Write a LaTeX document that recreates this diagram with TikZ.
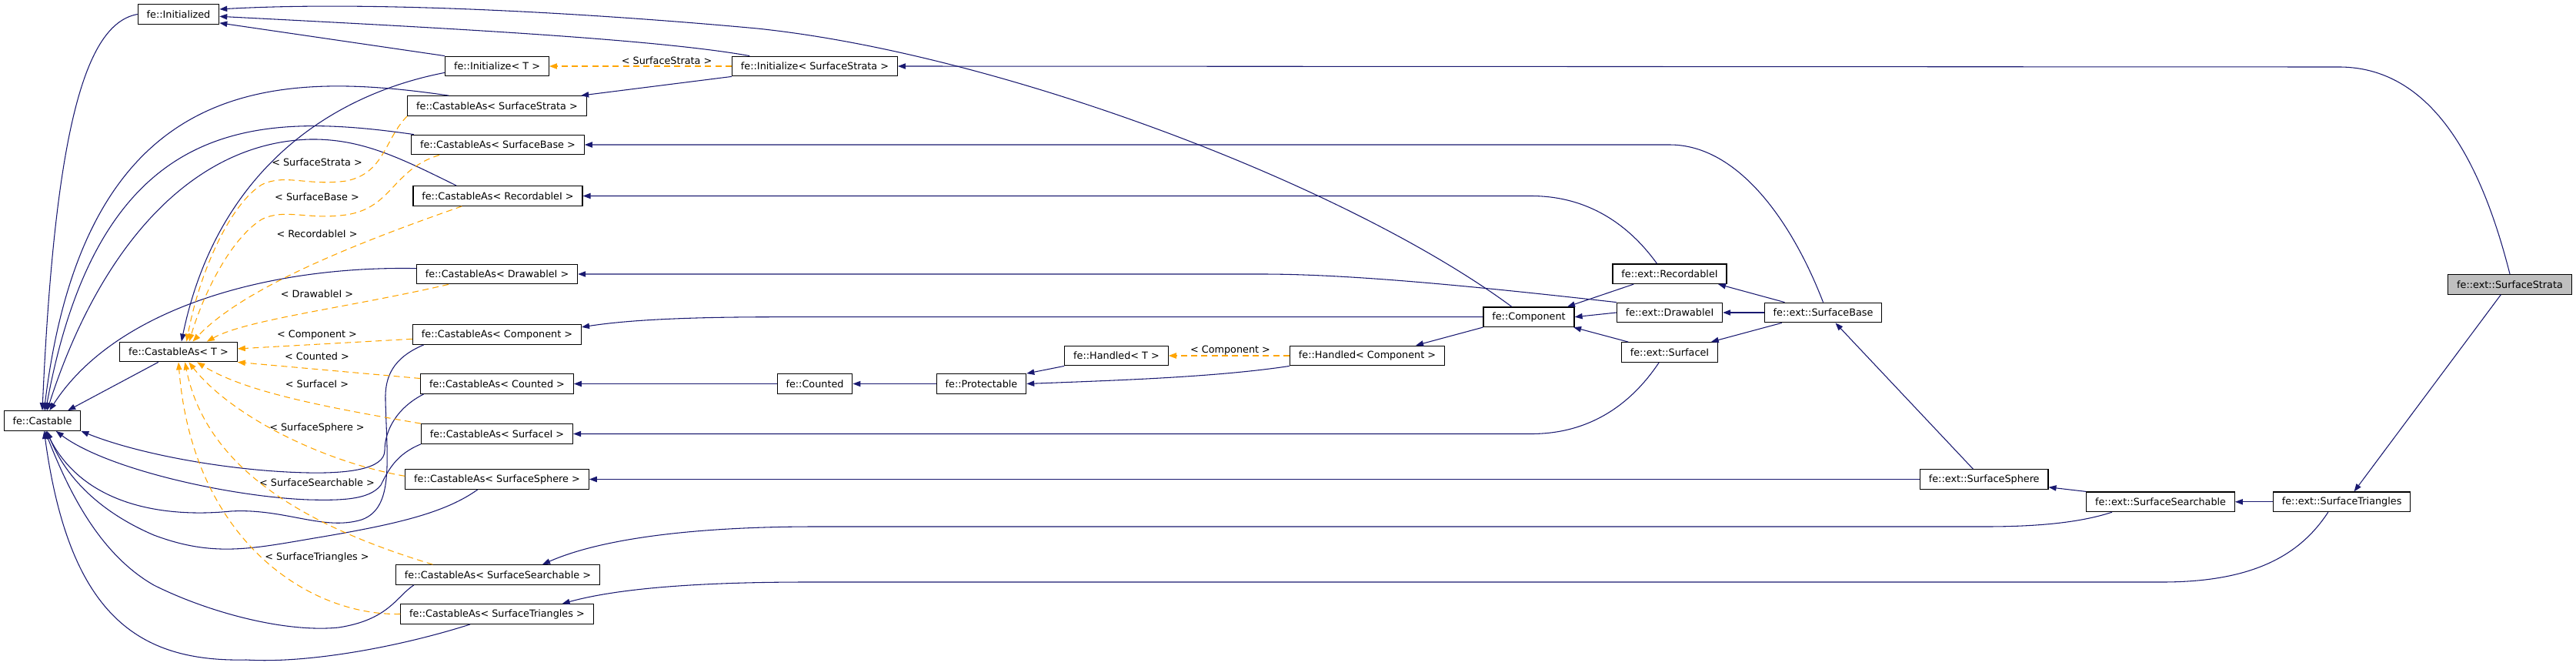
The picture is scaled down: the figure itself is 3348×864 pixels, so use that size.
\documentclass[tikz,border=0pt]{standalone}
\usepackage{fontspec}
\setmainfont{DejaVu Sans}
\usepackage{tikz}
\usetikzlibrary{arrows.meta}
\definecolor{edgeblue}{HTML}{191970}
\definecolor{tmplorange}{HTML}{FFA500}
\definecolor{curgray}{HTML}{BFBFBF}

\begin{document}
\begin{tikzpicture}[x=0.75pt,y=-0.75pt,
    cls/.style={draw=black,line width=0.9pt,fill=white,minimum height=19.2pt,inner xsep=8.5pt,inner ysep=0pt,font=\fontsize{9.6}{11}\selectfont},
    cur/.style={cls,fill=curgray},
    inh/.style={draw=edgeblue,line width=0.8pt,-{Triangle[length=7.5pt,width=5.5pt]}},
    tmpl/.style={draw=tmplorange,line width=0.8pt,dash pattern=on 6pt off 4pt,-{Triangle[length=7.5pt,width=5.5pt]}},
    lbl/.style={inner sep=0pt,font=\fontsize{9.6}{11}\selectfont}]
            \useasboundingbox (0,0) rectangle (3348,864);
            %\draw[very thin,color=gray] (0,0) grid[step=100] (3348,864);
            \node[cls] (init) at (232,18.5) {fe::Initialized};
            \node[cls] (initT) at (646,86) {fe::Initialize< T >};
            \node[cls] (initSS) at (1059,86) {fe::Initialize< SurfaceStrata >};
            \node[cls] (casSS) at (646,137.5) {fe::CastableAs< SurfaceStrata >};
            \node[cls] (casSB) at (647,188) {fe::CastableAs< SurfaceBase >};
            \node[cls] (casRec) at (647,254.5) {fe::CastableAs< RecordableI >};
            \node[cls] (casDraw) at (646,356) {fe::CastableAs< DrawableI >};
            \node[cls] (casComp) at (646,434.5) {fe::CastableAs< Component >};
            \node[cls] (casT) at (232,457) {fe::CastableAs< T >};
            \node[cls] (casCnt) at (646,498.5) {fe::CastableAs< Counted >};
            \node[cls] (castable) at (55,546.5) {fe::Castable};
            \node[cls] (casSI) at (646,563.5) {fe::CastableAs< SurfaceI >};
            \node[cls] (casSph) at (646,622.5) {fe::CastableAs< SurfaceSphere >};
            \node[cls] (casSrch) at (647,746.5) {fe::CastableAs< SurfaceSearchable >};
            \node[cls] (casTri) at (646,797.5) {fe::CastableAs< SurfaceTriangles >};
            \node[cls] (counted) at (1059,498.5) {fe::Counted};
            \node[cls] (prot) at (1275.5,498.5) {fe::Protectable};
            \node[cls] (handT) at (1451,462) {fe::Handled< T >};
            \node[cls] (handC) at (1777,462) {fe::Handled< Component >};
            \node[cls] (comp) at (1987,411.7) {fe::Component};
            \node[cls] (recI) at (2170,355.7) {fe::ext::RecordableI};
            \node[cls] (drawI) at (2170,406) {fe::ext::DrawableI};
            \node[cls] (surfI) at (2170,457.5) {fe::ext::SurfaceI};
            \node[cls] (sbase) at (2369.5,406) {fe::ext::SurfaceBase};
            \node[cls] (sphere) at (2578.7,622.5) {fe::ext::SurfaceSphere};
            \node[cls] (search) at (2808,651.8) {fe::ext::SurfaceSearchable};
            \node[cls] (tri) at (3043.6,651.8) {fe::ext::SurfaceTriangles};
            \node[cur] (strata) at (3262,369.3) {fe::ext::SurfaceStrata};
            % template arguments
            \node[lbl] (lInit) at (866.6,78.7) {< SurfaceStrata >};
            \node[lbl] (lHand) at (1599,454.7) {< Component >};
            \node[lbl] (lSS) at (412,210.7) {< SurfaceStrata >};
            \node[lbl] (lSB) at (412,255.7) {< SurfaceBase >};
            \node[lbl] (lRec) at (412,304) {< RecordableI >};
            \node[lbl] (lDraw) at (412,382) {< DrawableI >};
            \node[lbl] (lComp) at (412,435) {< Component >};
            \node[lbl] (lCnt) at (412,463) {< Counted >};
            \node[lbl] (lSI) at (412,499) {< SurfaceI >};
            \node[lbl] (lSph) at (412,556) {< SurfaceSphere >};
            \node[lbl] (lSrch) at (412,626.7) {< SurfaceSearchable >};
            \node[lbl] (lTri) at (412,724) {< SurfaceTriangles >};
            % into fe::Castable from above
            \draw[inh] (init.west) .. controls (115,30) and (72,150) .. (castable.90);
            \draw[inh] (casSS.168) .. controls (350,90) and (110,100) .. (castable.80);
            \draw[inh] (casSB.173) .. controls (330,145) and (130,150) .. (castable.72);
            \draw[inh] (casRec.166) .. controls (520,205) and (470,180) .. (403,181) .. controls (250,185) and (130,320) .. (castable.65);
            \draw[inh] (casDraw.176) .. controls (350,345) and (150,400) .. (castable.55);
            \draw[inh] (casT.207) -- (castable.22);
            % into fe::Castable from below
            \draw[inh] (casComp.188) .. controls (510,465) and (500,490) .. (501,520) .. controls (503,600) and (512,660) .. (470,675) .. controls (420,690) and (370,660) .. (300,664) .. controls (220,672) and (110,660) .. (castable.290);
            \draw[inh] (casCnt.188) .. controls (515,530) and (500,560) .. (500,585) .. controls (500,610) and (450,615) .. (400,614) .. controls (300,612) and (180,590) .. (castable.south east);
            \draw[inh] (casSI.south west) .. controls (515,590) and (505,610) .. (495,630) .. controls (480,650) and (440,650) .. (400,649) .. controls (300,645) and (140,610) .. (castable.323);
            \draw[inh] (casSph.208) .. controls (580,665) and (520,680) .. (420,697) .. controls (330,712) and (280,725) .. (200,695) .. controls (130,665) and (85,620) .. (castable.295);
            \draw[inh] (casSrch.187) .. controls (515,775) and (505,805) .. (440,815) .. controls (370,822) and (270,795) .. (200,760) .. controls (130,720) and (90,640) .. (castable.285);
            \draw[inh] (casTri.201) .. controls (520,840) and (400,862) .. (320,857) .. controls (180,860) and (90,800) .. (castable.280);
            % fe::Initialized
            \draw[inh] (comp.149) .. controls (1750,240) and (1300,70) .. (984,37) .. controls (800,20) and (500,0) .. (init.7);
            \draw[inh] (initSS.171) .. controls (850,50) and (550,35) .. (init.357);
            \draw[inh] (initT.north west) -- (init.348);
            \draw[tmpl] (initSS.west) -- (initT.east);
            \draw[inh] (strata.north) .. controls (3230,230) and (3170,87) .. (3040,87) -- (initSS.east);
            \draw[inh] (initSS.south west) -- (casSS.7);
            \draw[inh] (initT.187) .. controls (420,125) and (280,230) .. (casT.74);
            % instances of fe::CastableAs< T >
            \draw[tmpl] (casSS.south west) .. controls (500,180) and (500,225) .. (450,235) .. controls (400,242) and (370,225) .. (340,240) .. controls (300,265) and (260,350) .. (casT.52);
            \draw[tmpl] (casSB.190) .. controls (510,220) and (510,270) .. (450,279) .. controls (400,286) and (370,270) .. (340,285) .. controls (300,310) and (265,380) .. (casT.44);
            \draw[tmpl] (casRec.196) .. controls (480,310) and (320,370) .. (casT.36);
            \draw[tmpl] (casDraw.192) .. controls (450,400) and (320,415) .. (casT.20);
            \draw[tmpl] (casComp.183) -- (casT.3);
            \draw[tmpl] (casCnt.176) -- (casT.south east);
            \draw[tmpl] (casSI.north west) .. controls (430,530) and (320,510) .. (casT.331);
            \draw[tmpl] (casSph.178) .. controls (420,600) and (300,540) .. (casT.315);
            \draw[tmpl] (casSrch.171) .. controls (420,690) and (270,620) .. (casT.302);
            \draw[tmpl] (casTri.west) .. controls (400,800) and (250,700) .. (casT.south);
            % right hand side
            \draw[inh] (sbase.north) .. controls (2330,290) and (2260,188) .. (2170,188) -- (casSB.east);
            \draw[inh] (recI.141) .. controls (2130,310) and (2080,254.5) .. (1990,254.5) -- (casRec.east);
            \draw[inh] (drawI.north west) .. controls (1900,370) and (1750,356) .. (1640,356) -- (casDraw.east);
            \draw[inh] (comp.west) -- (1010,411.7) .. controls (900,411.7) and (820,415) .. (casComp.5);
            \draw[inh] (counted.west) -- (casCnt.east);
            \draw[inh] (prot.west) -- (counted.east);
            \draw[inh] (handT.south west) -- (prot.north east);
            \draw[inh] (handC.south west) .. controls (1580,490) and (1450,494) .. (prot.east);
            \draw[tmpl] (handC.west) -- (handT.east);
            \draw[inh] (comp.south west) -- (handC.12);
            \draw[inh] (recI.196) -- (comp.15);
            \draw[inh] (drawI.west) -- (comp.east);
            \draw[inh] (surfI.166) -- (comp.347);
            \draw[inh] (sbase.165) -- (recI.348);
            \draw[inh] (sbase.west) -- (drawI.east);
            \draw[inh] (sbase.194) -- (surfI.14);
            \draw[inh] (surfI.224) .. controls (2130,510) and (2080,563.5) .. (1990,563.5) -- (casSI.east);
            \draw[inh] (sphere.137) -- (sbase.320);
            \draw[inh] (sphere.west) -- (casSph.east);
            \draw[inh] (search.north west) -- (sphere.353);
            \draw[inh] (search.192) .. controls (2700,680) and (2640,684) .. (2580,684) -- (1060,684) .. controls (900,684) and (780,700) .. (casSrch.13);
            \draw[inh] (tri.west) -- (search.east);
            \draw[inh] (tri.217) .. controls (2990,720) and (2930,756) .. (2810,756) -- (1050,756) .. controls (900,756) and (800,765) .. (casTri.9);
            \draw[inh] (strata.229) -- (tri.40);
\end{tikzpicture}
\end{document}
